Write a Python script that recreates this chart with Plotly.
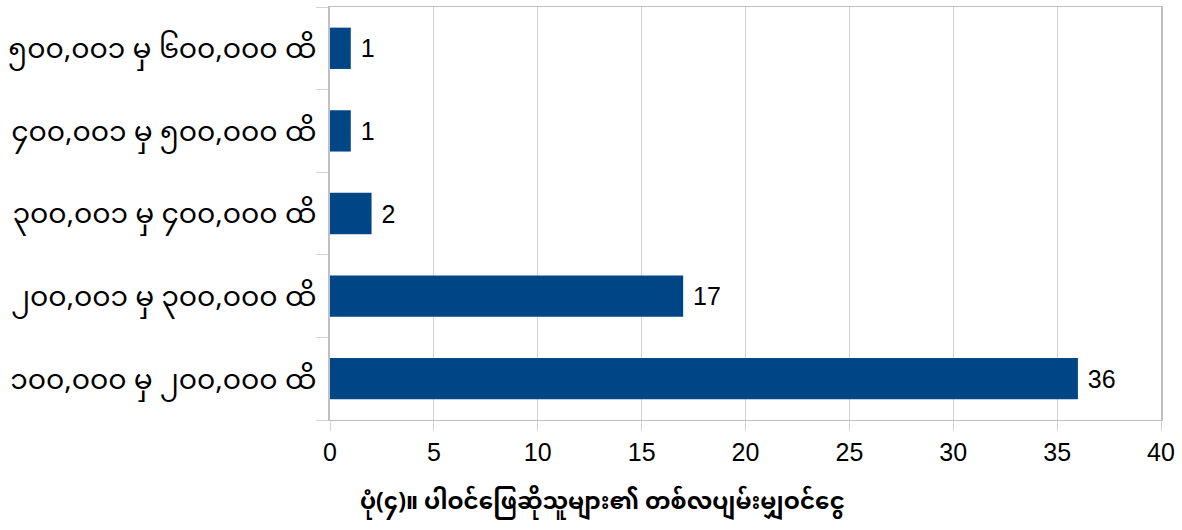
import plotly.graph_objects as go

categories = [
    "၁၀၀,၀၀၀ မှ ၂၀၀,၀၀၀ ထိ",
    "၂၀၀,၀၀၁ မှ ၃၀၀,၀၀၀ ထိ",
    "၃၀၀,၀၀၁ မှ ၄၀၀,၀၀၀ ထိ",
    "၄၀၀,၀၀၁ မှ ၅၀၀,၀၀၀ ထိ",
    "၅၀၀,၀၀၁ မှ ၆၀၀,၀၀၀ ထိ",
]
values = [36, 17, 2, 1, 1]
x_ticks = [0, 5, 10, 15, 20, 25, 30, 35, 40]
title_text = "ပုံ(၄)။ ပါဝင်ဖြေဆိုသူများ၏ တစ်လပျမ်းမျှဝင်ငွေ"

FONT = "Liberation Sans, Arial, sans-serif"
MY_FONT = "Noto Sans Myanmar, Padauk, Myanmar Text, Noto Sans, sans-serif"

fig = go.Figure(
    go.Bar(
        x=values,
        y=categories,
        orientation="h",
        marker=dict(color="#004586", line=dict(width=0)),
        texttemplate="\u00a0%{x}",
        textposition="outside",
        textfont=dict(family=FONT, size=25, color="#000000"),
        cliponaxis=False,
    )
)

fig.update_layout(
    width=1182,
    height=530,
    margin=dict(l=330, r=21, t=7, b=110),
    paper_bgcolor="white",
    plot_bgcolor="white",
    bargap=0.5,
    showlegend=False,
    font=dict(family=FONT, color="#000000"),
)

fig.update_xaxes(
    range=[0, 40],
    tickvals=x_ticks,
    ticktext=[str(t) for t in x_ticks],
    tickfont=dict(family=FONT, size=25, color="#000000"),
    showgrid=True,
    gridcolor="#d3d3d3",
    gridwidth=1,
    showline=True,
    linecolor="#c0c0c0",
    linewidth=1,
    mirror=True,
    ticks="outside",
    ticklen=10,
    tickcolor="#d3d3d3",
    zeroline=False,
)

fig.update_yaxes(
    categoryorder="array",
    categoryarray=categories,
    tickfont=dict(family=MY_FONT, size=28, color="#000000"),
    showgrid=False,
    showline=True,
    linecolor="#c0c0c0",
    linewidth=2,
    mirror=True,
    ticks="outside",
    ticklen=12,
    tickcolor="#d3d3d3",
    tickson="boundaries",
    ticklabelstandoff=6,
)

fig.add_annotation(
    text="<b>" + title_text + "</b>",
    xref="paper",
    yref="paper",
    x=(602 - 330) / 831,
    y=0,
    yshift=-84,
    xanchor="center",
    yanchor="middle",
    showarrow=False,
    font=dict(family=MY_FONT, size=23, color="#000000"),
)

fig.write_html("out.html")
